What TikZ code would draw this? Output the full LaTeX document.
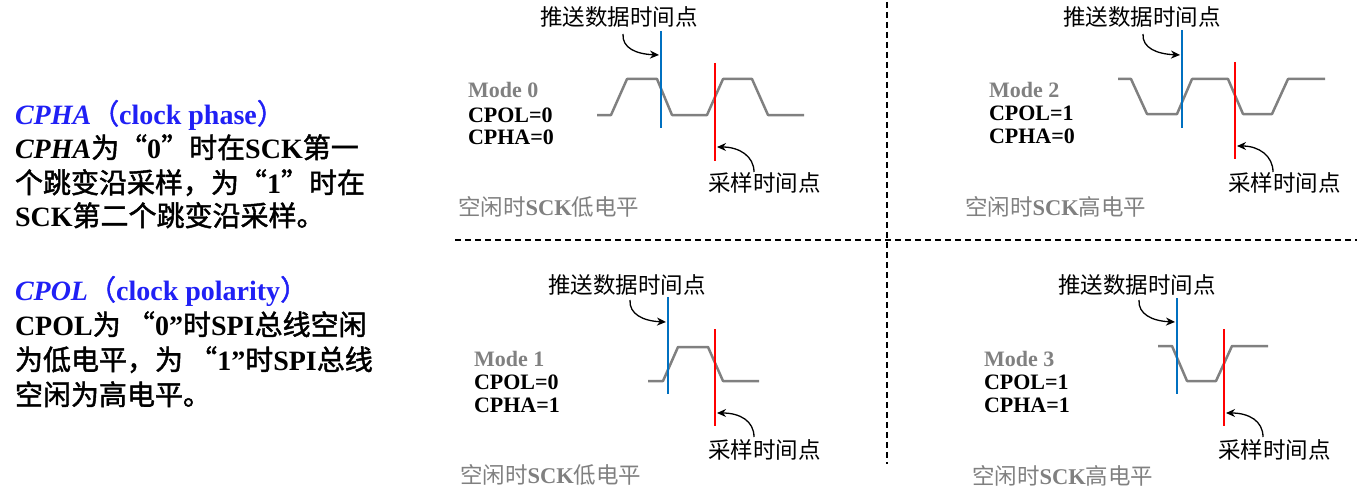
\documentclass[tikz,border=0pt]{standalone}
\usepackage{fontspec}
\setmainfont{Liberation Serif}
\newfontfamily\cjk{Noto Sans CJK SC}[BoldFont={Noto Sans CJK SC},BoldFeatures={FakeBold=1.6}]
\usetikzlibrary{arrows.meta}
\definecolor{hdrblue}{RGB}{32,32,245}
\definecolor{pushblue}{RGB}{0,112,192}
\definecolor{sigray}{RGB}{128,128,128}
\definecolor{txtgray}{RGB}{128,128,128}
\begin{document}
\begin{tikzpicture}[x=1pt,y=-1pt,
  every node/.style={inner sep=0pt, outer sep=0pt},
  lefttxt/.style={anchor=base west, font=\fontsize{28}{34}\selectfont\bfseries},
  lbl/.style={anchor=base west, font=\fontsize{22.5}{27}\selectfont\cjk},
  modetxt/.style={anchor=base west, font=\fontsize{22}{26}\selectfont\bfseries, text=txtgray},
  cfgtxt/.style={anchor=base west, font=\fontsize{22}{26}\selectfont\bfseries},
  idletxt/.style={anchor=base west, font=\fontsize{22.5}{27}\selectfont\bfseries, text=txtgray},
  sig/.style={draw=sigray, line width=2.5pt, line join=round},
  pushline/.style={draw=pushblue, line width=2pt},
  sampline/.style={draw=red, line width=2pt},
  callout/.style={draw=black, line width=1.3pt, -{Stealth[length=9pt,width=8pt]}},
  divider/.style={draw=black, line width=1.5pt, dash pattern=on 6pt off 4pt}
]
\useasboundingbox (0,0) rectangle (1371,503);

% ---------- left explanation ----------
\node[lefttxt, text=hdrblue] (h1) at (15,124) {\itshape CPHA\upshape{\cjk（}clock phase{\cjk）}};
\node[lefttxt] (a1) at (15,158) {\itshape CPHA\upshape{\cjk 为“}0{\cjk ”时在}SCK{\cjk 第一}};
\node[lefttxt] (a2) at (15,193) {{\cjk 个跳变沿采样，为“}1{\cjk ”时在}};
\node[lefttxt] (a3) at (15,226) {SCK{\cjk 第二个跳变沿采样。}};

\node[lefttxt, text=hdrblue] (h2) at (15,300) {\itshape CPOL\upshape{\cjk（}clock polarity{\cjk）}};
\node[lefttxt] (b1) at (15,335) {CPOL{\cjk 为 “}0”{\cjk 时}SPI{\cjk 总线空闲}};
\node[lefttxt] (b2) at (15,370) {{\cjk 为低电平，为 “}1”{\cjk 时}SPI{\cjk 总线}};
\node[lefttxt] (b3) at (15,405) {{\cjk 空闲为高电平。}};

% ---------- dividers ----------
\coordinate (vtop) at (887,2);
\coordinate (vbot) at (887,464);
\coordinate (hl) at (455,240);
\coordinate (hr) at (1357,240);
\draw[divider] (vtop) -- (vbot);
\draw[divider] (hl) -- (hr);

% ---------- Mode 0 ----------
\draw[sig] (597,115) -- (611,115) -- (627,79) -- (657,79) -- (672,115) -- (707,115) -- (723,79) -- (752,79) -- (768,115) -- (804,115);
\coordinate (p0t) at (661,31); \coordinate (p0b) at (661,128);
\coordinate (s0t) at (715,63); \coordinate (s0b) at (715,161);
\draw[pushline] (p0t) -- (p0b);
\draw[sampline] (s0t) -- (s0b);
\node[lbl] (push0) at (540,26) {推送数据时间点};
\node[lbl] (samp0) at (708,191) {采样时间点};
\coordinate (push0s) at (623,34); \coordinate (push0e) at (659,55);
\coordinate (samp0s) at (754,172); \coordinate (samp0e) at (717,147);
\draw[callout] (push0s) .. controls (622,48) and (636,54) .. (push0e);
\draw[callout] (samp0s) .. controls (754,156) and (739,147) .. (samp0e);
\node[modetxt] (m0) at (468,98) {Mode 0};
\node[cfgtxt] (m0a) at (468,122) {CPOL=0};
\node[cfgtxt] (m0b) at (468,144) {CPHA=0};
\node[idletxt] (i0) at (458,215) {{\cjk\mdseries 空闲时}SCK{\cjk\mdseries 低电平}};

% ---------- Mode 2 ----------
\draw[sig] (1118,79) -- (1131,79) -- (1147,114) -- (1177,114) -- (1192,79) -- (1228,79) -- (1243,114) -- (1272,114) -- (1288,79) -- (1325,79);
\coordinate (p2t) at (1182,30); \coordinate (p2b) at (1182,128);
\coordinate (s2t) at (1235,62); \coordinate (s2b) at (1235,159);
\draw[pushline] (p2t) -- (p2b);
\draw[sampline] (s2t) -- (s2b);
\node[lbl] (push2) at (1063,26) {推送数据时间点};
\node[lbl] (samp2) at (1228,191) {采样时间点};
\coordinate (push2s) at (1143,34); \coordinate (push2e) at (1180,55);
\coordinate (samp2s) at (1273,172); \coordinate (samp2e) at (1237,146);
\draw[callout] (push2s) .. controls (1142,48) and (1157,54) .. (push2e);
\draw[callout] (samp2s) .. controls (1273,156) and (1259,146) .. (samp2e);
\node[modetxt] (m2) at (989,98) {Mode 2};
\node[cfgtxt] (m2a) at (989,121) {CPOL=1};
\node[cfgtxt] (m2b) at (989,143) {CPHA=0};
\node[idletxt] (i2) at (965,215) {{\cjk\mdseries 空闲时}SCK{\cjk\mdseries 高电平}};

% ---------- Mode 1 ----------
\draw[sig] (648,381) -- (663,381) -- (678,347) -- (708,347) -- (723,381) -- (759,381);
\coordinate (p1t) at (668,297); \coordinate (p1b) at (668,394);
\coordinate (s1t) at (715,329); \coordinate (s1b) at (715,426);
\draw[pushline] (p1t) -- (p1b);
\draw[sampline] (s1t) -- (s1b);
\node[lbl] (push1) at (548,293) {推送数据时间点};
\node[lbl] (samp1) at (708,458) {采样时间点};
\coordinate (push1s) at (630,300); \coordinate (push1e) at (666,322);
\coordinate (samp1s) at (754,437); \coordinate (samp1e) at (717,413);
\draw[callout] (push1s) .. controls (629,314) and (643,321) .. (push1e);
\draw[callout] (samp1s) .. controls (754,421) and (740,413) .. (samp1e);
\node[modetxt] (m1) at (474,366) {Mode 1};
\node[cfgtxt] (m1a) at (474,389) {CPOL=0};
\node[cfgtxt] (m1b) at (474,412) {CPHA=1};
\node[idletxt] (i1) at (460,483) {{\cjk\mdseries 空闲时}SCK{\cjk\mdseries 低电平}};

% ---------- Mode 3 ----------
\draw[sig] (1158,346) -- (1172,346) -- (1187,381) -- (1216,381) -- (1232,346) -- (1268,346);
\coordinate (p3t) at (1177,298); \coordinate (p3b) at (1177,394);
\coordinate (s3t) at (1224,329); \coordinate (s3b) at (1224,426);
\draw[pushline] (p3t) -- (p3b);
\draw[sampline] (s3t) -- (s3b);
\node[lbl] (push3) at (1058,293) {推送数据时间点};
\node[lbl] (samp3) at (1218,458) {采样时间点};
\coordinate (push3s) at (1139,300); \coordinate (push3e) at (1175,322);
\coordinate (samp3s) at (1263,437); \coordinate (samp3e) at (1226,413);
\draw[callout] (push3s) .. controls (1138,314) and (1152,321) .. (push3e);
\draw[callout] (samp3s) .. controls (1263,421) and (1249,413) .. (samp3e);
\node[modetxt] (m3) at (984,366) {Mode 3};
\node[cfgtxt] (m3a) at (984,389) {CPOL=1};
\node[cfgtxt] (m3b) at (984,412) {CPHA=1};
\node[idletxt] (i3) at (972,484) {{\cjk\mdseries 空闲时}SCK{\cjk\mdseries 高电平}};
\end{tikzpicture}
\end{document}
